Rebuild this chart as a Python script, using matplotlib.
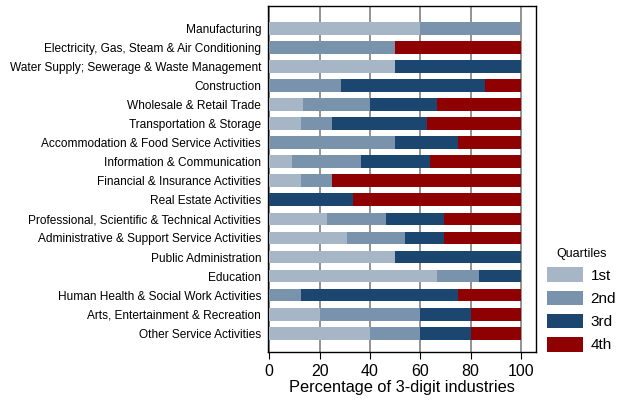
import matplotlib
matplotlib.use("Agg")
import matplotlib.pyplot as plt
import numpy as np

plt.rcParams['font.family'] = ['Liberation Sans', 'DejaVu Sans']

sectors = [
    "Manufacturing",
    "Electricity, Gas, Steam & Air Conditioning",
    "Water Supply; Sewerage & Waste Management",
    "Construction",
    "Wholesale & Retail Trade",
    "Transportation & Storage",
    "Accommodation & Food Service Activities",
    "Information & Communication",
    "Financial & Insurance Activities",
    "Real Estate Activities",
    "Professional, Scientific & Technical Activities",
    "Administrative & Support Service Activities",
    "Public Administration",
    "Education",
    "Human Health & Social Work Activities",
    "Arts, Entertainment & Recreation",
    "Other Service Activities",
]

# share of 3-digit industries in each quartile (%)
q1 = [60.0, 0.0, 50.0, 0.0, 13.3, 12.5, 0.0, 9.1, 12.5, 0.0, 23.1, 30.8, 50.0, 66.7, 0.0, 20.0, 40.0]
q2 = [40.0, 50.0, 0.0, 28.6, 26.7, 12.5, 50.0, 27.3, 12.5, 0.0, 23.1, 23.1, 0.0, 16.7, 12.5, 40.0, 20.0]
q3 = [0.0, 0.0, 50.0, 57.1, 26.7, 37.5, 25.0, 27.3, 0.0, 33.3, 23.1, 15.4, 50.0, 16.7, 62.5, 20.0, 20.0]
q4 = [0.0, 50.0, 0.0, 14.3, 33.3, 37.5, 25.0, 36.4, 75.0, 66.7, 30.8, 30.8, 0.0, 0.0, 25.0, 20.0, 20.0]

quartile_labels = ["1st", "2nd", "3rd", "4th"]
colors = ["#a6b6c7", "#7a93ad", "#1a4670", "#8f0000"]

fig = plt.figure(figsize=(6.18, 4.01), dpi=100)
ax = fig.add_axes([0.4337, 0.122, 0.4337, 0.863])

y = np.arange(len(sectors))
left = np.zeros(len(sectors))
for vals, lab, c in zip([q1, q2, q3, q4], quartile_labels, colors):
    ax.barh(y, vals, left=left, height=0.68, color=c, label=lab, zorder=3)
    left += np.array(vals)

ax.set_xlim(-0.5, 106)
ax.set_ylim(17.0, -1.2)
ax.set_yticks(y)
ax.set_yticklabels(sectors, fontsize=8.6)
ax.tick_params(axis='y', length=0, pad=5)
ax.set_xticks([0, 20, 40, 60, 80, 100])
ax.tick_params(axis='x', labelsize=11.5, length=5, direction='out')
ax.set_xlabel("Percentage of 3-digit industries", fontsize=11.8, labelpad=1)
ax.xaxis.grid(True, color="#808080", linewidth=1.2, zorder=0)
for s in ax.spines.values():
    s.set_linewidth(1.0)

leg = fig.legend(title="Quartiles", loc="upper left", bbox_to_anchor=(0.885, 0.382),
                 frameon=False, fontsize=11, title_fontsize=9, handlelength=2.35,
                 handleheight=1.1, labelspacing=0.5, handletextpad=0.5,
                 borderaxespad=0, borderpad=0)

fig.savefig("out.png", dpi=100)
